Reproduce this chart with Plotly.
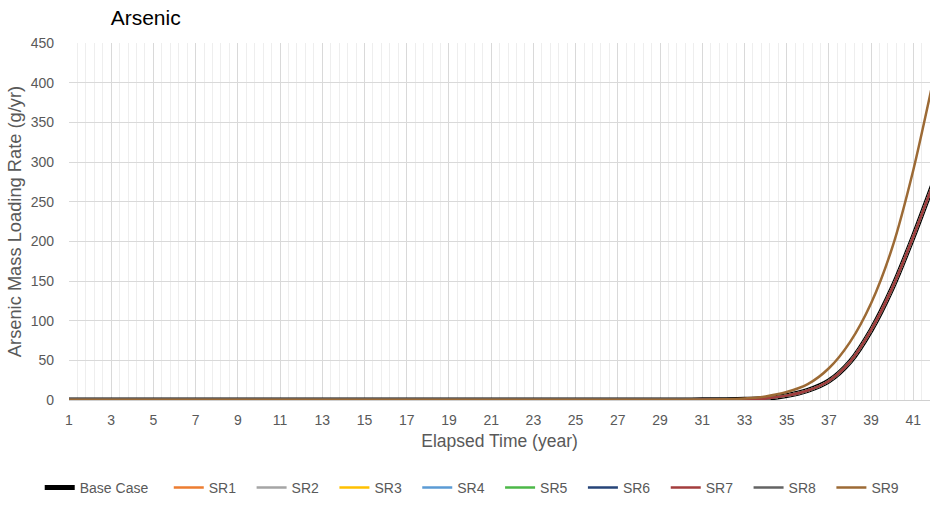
import plotly.graph_objects as go

years = list(range(1, 43))

# Base case and SR1-SR8 (overlapping)
base_tail = {31: 0.2, 32: 0.4, 33: 0.8, 34: 2.0, 35: 5.5, 36: 12, 37: 24,
             38: 48, 39: 88, 40: 141, 41: 206, 42: 277}
sr9_tail = {31: 0.4, 32: 0.9, 33: 2.0, 34: 4.5, 35: 10, 36: 20, 37: 40,
            38: 73, 39: 122, 40: 192, 41: 290, 42: 410}

base_case = [base_tail.get(y, 0.1) for y in years]
sr1 = list(base_case)
sr2 = list(base_case)
sr3 = list(base_case)
sr4 = list(base_case)
sr5 = list(base_case)
sr6 = list(base_case)
sr7 = list(base_case)
sr8 = list(base_case)
sr9 = [sr9_tail.get(y, 0.1) for y in years]

series_names = ["Base Case", "SR1", "SR2", "SR3", "SR4", "SR5", "SR6", "SR7", "SR8", "SR9"]
series_values = [base_case, sr1, sr2, sr3, sr4, sr5, sr6, sr7, sr8, sr9]
colors = ["#000000", "#ED7D31", "#A5A5A5", "#FFC000", "#5B9BD5", "#4CB848",
          "#264478", "#A33D3D", "#636363", "#9C6A35"]
widths = [5, 2.5, 2.5, 2.5, 2.5, 2.5, 2.5, 2.5, 2.5, 2.5]
# drawing order (SR7 sits on top of SR8 in the original); legend keeps name order
draw_order = [0, 1, 2, 3, 4, 5, 6, 8, 7, 9]

tick_vals = list(range(1, 42, 2))
tick_text = [str(v) for v in tick_vals]

NB = "\u00a0"
THIN = "\u2009"

fig = go.Figure()
for i in draw_order:
    name = series_names[i]
    pad = NB * 4 if name == "Base Case" else NB * 2 + THIN
    fig.add_trace(go.Scatter(
        x=years, y=series_values[i], name=name + pad, mode="lines",
        legendrank=1000 + i,
        line=dict(color=colors[i], width=widths[i], shape="spline", smoothing=0.8),
    ))

font_family = "Liberation Sans, Arial, sans-serif"
fig.update_layout(
    width=930, height=508,
    margin=dict(l=69, r=0, t=43, b=108, autoexpand=False),
    paper_bgcolor="white", plot_bgcolor="white",
    font=dict(family=font_family, color="#595959", size=14),
    title=dict(text="Arsenic", x=0.119, xanchor="left", y=0.9646, yanchor="middle",
               font=dict(size=21, color="#000000", family=font_family)),
    showlegend=True,
    legend=dict(orientation="h", x=-0.034, xanchor="left", y=-0.2465, yanchor="middle",
                font=dict(size=14, color="#595959"), traceorder="normal",
                itemwidth=30, tracegroupgap=0, bgcolor="rgba(0,0,0,0)"),
    xaxis=dict(
        range=[1, 41.79], tickmode="array", tickvals=tick_vals, ticktext=tick_text,
        showgrid=True, gridcolor="#D9D9D9", gridwidth=1,
        minor=dict(dtick=0.4, tick0=1, showgrid=True, gridcolor="#EEEEEE", gridwidth=1),
        showline=True, linecolor="#D0D0D0", linewidth=1, zeroline=False,
        ticks="", ticklabelstandoff=7, automargin=False,
        tickfont=dict(size=14, color="#595959"),
        title=dict(text="Elapsed Time (year)", font=dict(size=17.5, color="#595959"), standoff=7),
    ),
    yaxis=dict(
        range=[0, 450], dtick=50, tick0=0,
        showgrid=True, gridcolor="#D9D9D9", gridwidth=1,
        zeroline=False, showline=False, ticks="", ticklabelstandoff=14, automargin=False,
        tickfont=dict(size=14, color="#595959"),
        title=dict(text="Arsenic Mass Loading Rate (g/yr)", font=dict(size=18.3, color="#595959"), standoff=4),
    ),
)

fig.write_html(
    "out.html",
    config={"displayModeBar": False},
    post_script="document.body.style.margin='0';document.body.style.padding='0';window.dispatchEvent(new Event('resize'));",
)
